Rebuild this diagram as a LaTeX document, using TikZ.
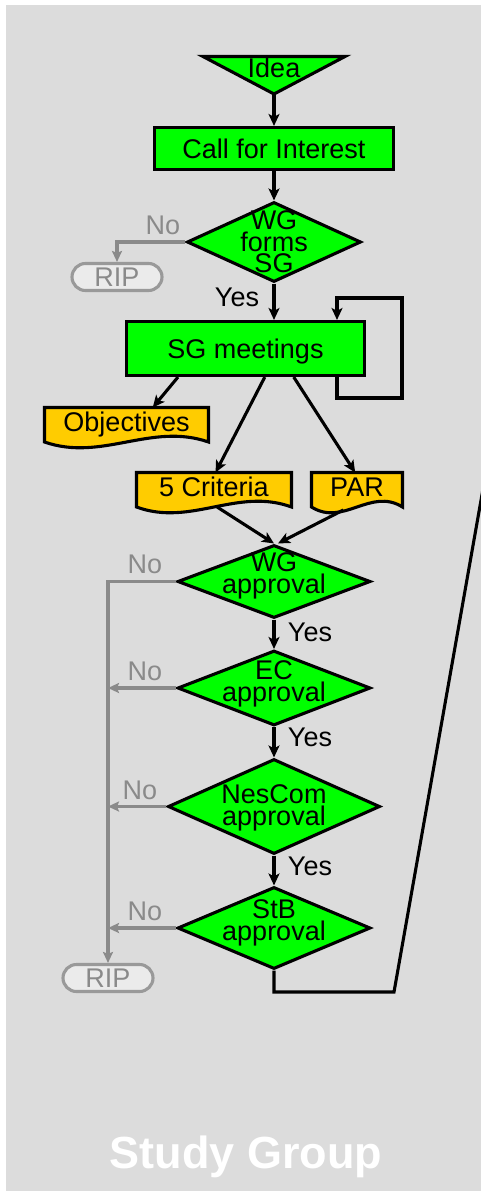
\documentclass[tikz,border=0pt]{standalone}
\usepackage{fontspec}
\setmainfont{Liberation Sans}
\usetikzlibrary{shapes.geometric,arrows.meta,calc}
\pgfdeclarelayer{back}
\pgfdeclarelayer{shapes}
\pgfsetlayers{back,shapes,main}
\definecolor{bggray}{HTML}{DCDCDC}
\definecolor{sggreen}{HTML}{00FF00}
\definecolor{docorange}{HTML}{FFCC00}
\definecolor{nogray}{HTML}{8A8A8A}
\definecolor{ripborder}{HTML}{999999}
\definecolor{ripfill}{HTML}{EBEBEB}
\tikzset{
  lw/.style={line width=3.1pt},
  box/.style={draw=black, lw, fill=sggreen, rectangle, inner sep=0pt, text height=19.5pt, text depth=0pt},
  dia/.style={draw=black, lw, fill=sggreen, diamond, inner sep=0pt},
  dtext/.style={align=center, inner sep=0pt},
  docnode/.style={rectangle, inner sep=0pt, outer sep=0pt, text height=19.5pt, text depth=6pt},
  docshape/.style={draw=black, lw, fill=docorange},
  rip/.style={draw=ripborder, lw, fill=ripfill, rounded corners=13.5pt, minimum width=90pt, minimum height=27pt, inner sep=0pt, text=nogray, text height=19.5pt, text depth=0pt},
  arr/.style={draw=black, lw, -{Stealth[length=12pt,width=11pt,inset=3pt]}},
  garr/.style={draw=nogray, lw, -{Stealth[length=11pt,width=10pt,inset=2pt]}},
  flow/.style={draw=black, lw},
  yes/.style={anchor=base, inner sep=0pt},
  no/.style={anchor=base, inner sep=0pt, text=nogray},
}
\newcommand\docpath[1]{%
  \path[docshape] (#1.north west) -- (#1.north east) -- (#1.south east)
    .. controls ($(#1.south west)!0.65!(#1.south east)+(0,-20)$) and ($(#1.south west)!0.35!(#1.south east)+(0,20)$) .. (#1.south west) -- cycle;}
\begin{document}
\begin{tikzpicture}[x=1pt,y=-1pt,font=\fontsize{27pt}{21.7pt}\selectfont]
\useasboundingbox (0,0) rectangle (481,1191);
\begin{pgfonlayer}{back}
\fill[bggray] (6,5) rectangle (481,1191);
\end{pgfonlayer}

% nodes
\node[rectangle, inner sep=0pt, outer sep=0pt, minimum width=142pt, minimum height=37.5pt, text height=19.5pt, text depth=15.4pt] (idea) at (274,75.25) {Idea};
\node[box, minimum width=239pt, minimum height=42pt] (call) at (274,148.5) {Call for Interest};
\node[dia, minimum width=174pt, minimum height=80pt] (wgsg) at (274,242) {};
\node[dtext] (wgsgt) at (274,242) {WG\\forms\\SG};
\node[rip] (rip1) at (117,277) {RIP};
\node[box, minimum width=238pt, minimum height=54pt] (sgm) at (245.5,348.5) {SG meetings};
\node[docnode, minimum width=164pt, minimum height=34.5pt] (obj) at (126.5,424.75) {Objectives};
\node[docnode, minimum width=155pt, minimum height=34.5pt] (crit) at (214,489.75) {5 Criteria};
\node[docnode, minimum width=91pt, minimum height=34.5pt] (parn) at (357,489.75) {PAR};
\node[dia, minimum width=193pt, minimum height=73pt] (wga) at (274,581.5) {};
\node[dtext] (wgat) at (274,575.6) {WG\\approval};
\node[dia, minimum width=193pt, minimum height=75pt] (eca) at (274,688) {};
\node[dtext] (ecat) at (274,683.85) {EC\\approval};
\node[dia, minimum width=212pt, minimum height=95pt] (nca) at (274,806.5) {};
\node[dtext] (ncat) at (274,807.85) {NesCom\\approval};
\node[dia, minimum width=193pt, minimum height=82pt] (stba) at (274,928) {};
\node[dtext] (stbat) at (274,923.15) {StB\\approval};
\node[rip] (rip2) at (108,978) {RIP};

\begin{pgfonlayer}{shapes}
\path[draw=black, lw, fill=sggreen] (idea.north west) -- (idea.north east) -- (idea.south) -- cycle;
\docpath{obj}
\docpath{crit}
\docpath{parn}
\end{pgfonlayer}

% labels
\node[no] (no1) at (163,234.3) {No};
\node[yes] (yes1) at (237,306) {Yes};
\node[no] (no2) at (145,573.3) {No};
\node[yes] (yes2) at (310,641.7) {Yes};
\node[no] (no3) at (145,680.7) {No};
\node[yes] (yes3) at (310,746.7) {Yes};
\node[no] (no4) at (140,799.3) {No};
\node[yes] (yes4) at (310,875.7) {Yes};
\node[no] (no5) at (145,920.7) {No};
\node[anchor=base, inner sep=0pt, text=white, font=\fontsize{45pt}{54pt}\selectfont\bfseries] (title) at (246,1168) {Study Group};

% helper coordinates
\coordinate (lx) at (337,0);
\coordinate (lr) at (402,398);
\coordinate (lt) at (337,298);
\coordinate (rb) at (394,992);
\coordinate (rt) at (483,489);

% connectors
\draw[arr] (idea.south) -- (call.north);
\draw[arr] (call.south) -- (wgsg.north);
\draw[garr] (wgsg.west) -| (rip1.north);
\draw[arr] (wgsg.south) -- (wgsg.south |- sgm.north);
\draw[arr] (sgm.south -| lx) |- (lr) |- (lt) -- (sgm.north -| lx);
\draw[arr] ($(sgm.south west)!0.22!(sgm.south east)$) -- ($(obj.north west)!0.66!(obj.north east)$);
\draw[arr] ($(sgm.south west)!0.58!(sgm.south east)$) -- ($(crit.north west)!0.51!(crit.north east)$);
\draw[arr] ($(sgm.south west)!0.70!(sgm.south east)$) -- ($(parn.north west)!0.48!(parn.north east)$);
\draw[arr] ($(crit.south west)!0.52!(crit.south east)$) -- (wga.north);
\draw[arr] ($(parn.south west)!0.35!(parn.south east)+(0,3)$) -- ([xshift=4pt]wga.north);
\draw[garr] (wga.west) -| (rip2.north);
\draw[arr] (wga.south) -- (eca.north);
\draw[garr] (eca.west) -- (eca.west -| rip2.north);
\draw[arr] (eca.south) -- (nca.north);
\draw[garr] (nca.west) -- (nca.west -| rip2.north);
\draw[arr] (nca.south) -- (stba.north);
\draw[garr] (stba.west) -- (stba.west -| rip2.north);
\draw[flow] (stba.south) |- (rb) -- (rt);
\end{tikzpicture}
\end{document}
